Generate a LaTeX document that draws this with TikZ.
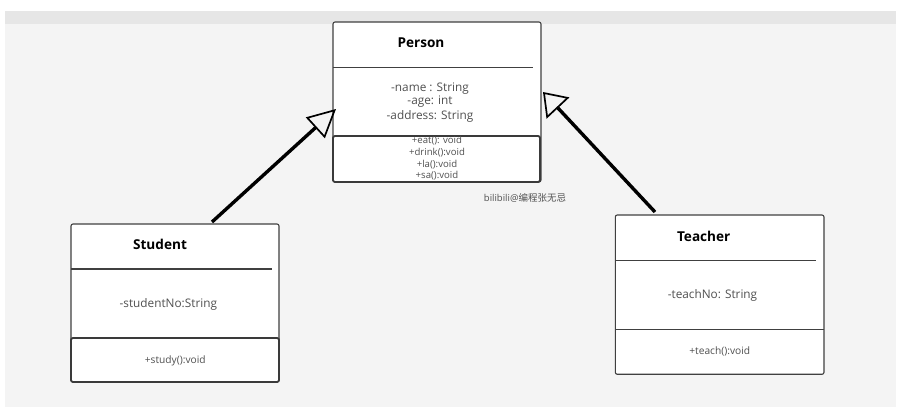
\documentclass[tikz,border=0pt]{standalone}
\usepackage{fontspec}
\setmainfont{Open Sans}
\newfontfamily\cjkfont{Noto Sans CJK SC}
\usetikzlibrary{arrows.meta}
\definecolor{bandgray}{HTML}{E6E6E6}
\definecolor{bggray}{HTML}{F4F4F4}
\definecolor{boxborder}{HTML}{404040}
\definecolor{txtgray}{HTML}{505050}
\tikzset{
  classbox/.style={draw=boxborder, line width=1.1pt, fill=white, rounded corners=2pt, inner sep=0pt, outer sep=0pt, anchor=north west},
  methbox/.style={draw=boxborder!90!black, line width=1.8pt, fill=white, rounded corners=2pt, inner sep=0pt, outer sep=0pt, anchor=north west},
  sepline/.style={draw=boxborder, line width=1.1pt},
  titletext/.style={font=\fontsize{13.6}{15}\selectfont\bfseries, text=black, inner sep=0pt},
  attrtext/.style={font=\fontsize{11.8}{13.4}\selectfont, text=txtgray, inner sep=0pt, align=center},
  methtext/.style={font=\fontsize{10.2}{12}\selectfont, text=txtgray, inner sep=0pt, align=center},
  pmethtext/.style={font=\fontsize{9.6}{11.6}\selectfont, text=txtgray, inner sep=0pt, align=center},
  inherit/.style={line width=3.4pt, black},
}
\begin{document}
\begin{tikzpicture}[x=1pt, y=-1pt]
% background
\fill[white] (0,0) rectangle (898,419);
\useasboundingbox (0,0) rectangle (898,419);
\fill[bggray] (5,11) rectangle (896,407);
\fill[bandgray] (5,11) rectangle (896,24);

% Person
\node[classbox, minimum width=208pt, minimum height=160pt] (person) at (333,22) {};
\draw[sepline] (333,67.7) -- (533,67.7);
\node[methbox, minimum width=207pt, minimum height=46pt] (personM) at (333,136) {};
\node[titletext] (personT) at (421,43) {Person};
\node[attrtext] (pa1) at (430,89) {-name : String};
\node[attrtext] (pa2) at (430,102) {-age: int};
\node[attrtext] (pa3) at (430,116) {-address: String};
\node[pmethtext] (pm1) at (437,141) {+eat(): void};
\node[pmethtext] (pm2) at (437,152.7) {+drink():void};
\node[pmethtext] (pm3) at (437,165) {+la():void};
\node[pmethtext] (pm4) at (437,176) {+sa():void};

% Student
\node[classbox, minimum width=208pt, minimum height=158pt] (student) at (71,224) {};
\draw[sepline] (71,269) -- (272,269);
\node[methbox, minimum width=208pt, minimum height=44pt] (studentM) at (71,338) {};
\node[titletext] (studentT) at (160,244.3) {Student};
\node[attrtext] (sa1) at (168.3,304.3) {-studentNo:String};
\node[methtext] (sm1) at (175.3,361) {+study():void};

% Teacher
\node[classbox, minimum width=208.7pt, minimum height=159.3pt] (teacher) at (615.3,215) {};
\draw[sepline] (615.3,260.7) -- (816,260.7);
\draw[sepline] (615.3,329.3) -- (824,329.3);
\node[titletext] (teacherT) at (703.7,236) {Teacher};
\node[attrtext] (ta1) at (712.5,295.7) {-teachNo: String};
\node[methtext] (tm1) at (719.8,351.7) {+teach():void};

% watermark
\node[font=\fontsize{9.5}{11}\selectfont, text=txtgray, inner sep=0pt] (wm) at (525,198) {bilibili@{\cjkfont 编程张无忌}};

% inheritance arrows
\coordinate (sFrom) at (212,222);
\coordinate (pTipL) at (336,109);
\coordinate (tFrom) at (655,212);
\coordinate (pTipR) at (543,92);
\draw[inherit, -{Triangle[open, length=28pt, width=28pt, line width=1.7pt]}] (sFrom) -- (pTipL);
\draw[inherit, -{Triangle[open, length=22pt, width=31pt, line width=1.7pt]}] (tFrom) -- (pTipR);
\end{tikzpicture}
\end{document}
